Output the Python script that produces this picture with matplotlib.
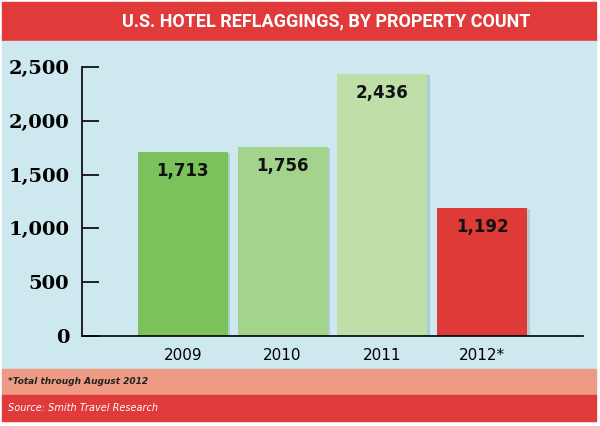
import matplotlib.pyplot as plt
from matplotlib.patches import Rectangle
import matplotlib.patheffects as pe

# Data
years = ['2009', '2010', '2011', '2012*']
counts = [1713, 1756, 2436, 1192]
labels = ['1,713', '1,756', '2,436', '1,192']
bar_colors = ['#7cc25a', '#a4d38c', '#bfdfa8', '#e03a38']
yticks = [0, 500, 1000, 1500, 2000, 2500]
ytick_labels = ['0', '500', '1,000', '1,500', '2,000', '2,500']

W, H = 600, 426
fig = plt.figure(figsize=(6, 4.26), dpi=100)
fig.patch.set_facecolor('white')

def band(y0, y1, color):
    # y in pixels from top
    fig.patches.append(Rectangle((2 / W, 1 - y1 / H), 594 / W, (y1 - y0) / H,
                                 transform=fig.transFigure, color=color, zorder=-5))

band(2, 41, '#e03a3a')
band(41, 369, '#cde8ee')
band(369, 395, '#ee9b86')
band(395, 421, '#e03a3a')

fig.text(326 / W, 1 - 21 / H, 'U.S. HOTEL REFLAGGINGS, BY PROPERTY COUNT',
         ha='center', va='center', color='white', fontsize=13, fontweight='bold',
         family=['Roboto', 'DejaVu Sans'])
fig.text(8 / W, 1 - 382 / H, '*Total through August 2012', ha='left', va='center',
         color='#222222', fontsize=6.5, fontstyle='italic', fontweight='bold')
fig.text(8 / W, 1 - 408 / H, 'Source: Smith Travel Research', ha='left', va='center',
         color='white', fontsize=7, fontstyle='italic', family='DejaVu Sans')

ax = fig.add_axes([82 / W, 1 - 336 / H, 501 / W, 269 / H])
ax.set_facecolor('none')

shadow = [pe.SimplePatchShadow(offset=(2, -1), shadow_rgbFace='#8fb4bf', alpha=0.5), pe.Normal()]
bars = ax.bar(range(len(years)), counts, width=0.9, color=bar_colors, zorder=2)
for b in bars:
    b.set_path_effects(shadow)

for i, (v, lab) in enumerate(zip(counts, labels)):
    ax.text(i, v - 95, lab, ha='center', va='top', fontsize=12, fontweight='bold',
            color='#111111', family='DejaVu Sans')

ax.set_xlim(-1.01, 4.01)
ax.set_ylim(0, 2500)
ax.set_yticks(yticks)
ax.set_yticklabels(ytick_labels, fontsize=14, fontweight='bold', family='DejaVu Serif')
ax.set_xticks(range(len(years)))
ax.set_xticklabels(years, fontsize=11, family='DejaVu Sans')
ax.tick_params(axis='x', length=0, pad=9)
ax.tick_params(axis='y', length=12, width=1.2, direction='in', pad=9)

for s in ['top', 'right']:
    ax.spines[s].set_visible(False)
ax.spines['left'].set_linewidth(1.2)
ax.spines['bottom'].set_linewidth(1.2)

fig.savefig('out.png', dpi=100, facecolor='white')
